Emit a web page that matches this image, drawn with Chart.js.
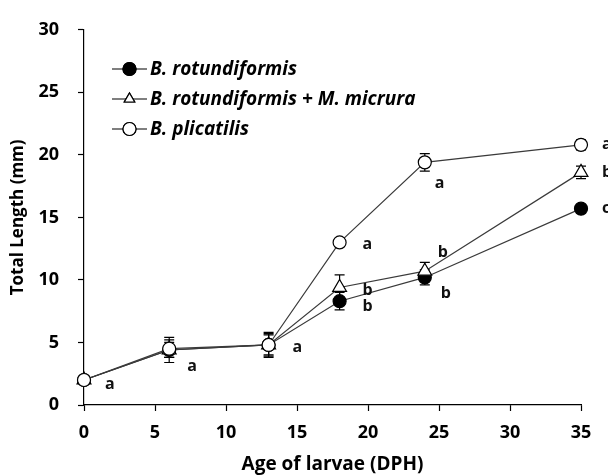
<!DOCTYPE html>
<html>
<head>
<meta charset="utf-8">
<script src="https://cdn.jsdelivr.net/npm/chart.js@4.4.1/dist/chart.umd.min.js"></script>
<style>
  html, body { margin: 0; padding: 0; background: #fff; }
  #wrap { width: 608px; height: 476px; position: relative; }
</style>
</head>
<body>
<div id="wrap"><canvas id="c" width="608" height="476"></canvas></div>
<script>
// ---- data ----
const ageDPH = [0, 6, 13, 18, 24, 35];
const seriesNames = ["B. rotundiformis", "B. rotundiformis + M. micrura", "B. plicatilis"];
const rotundiformis = [2.0, 4.4, 4.8, 8.3, 10.2, 15.7];
const rotundiformisMicrura = [2.0, 4.4, 4.8, 9.4, 10.7, 18.6];
const plicatilis = [2.0, 4.5, 4.8, 13.0, 19.4, 20.8];
const errRotundiformis = [0.3, 1.0, 1.0, 0.7, 0.6, 0.3];
const errRotundiformisMicrura = [0.3, 0.6, 0.8, 1.0, 0.7, 0.5];
const errPlicatilis = [0.3, 0.7, 0.9, 0.3, 0.7, 0.4];
const lettersRotundiformis = ["", "", "", "b", "b", "c"];
const lettersRotundiformisMicrura = ["", "", "", "b", "b", "b"];
const lettersPlicatilis = ["a", "a", "a", "a", "a", "a"];
const xTicks = [0, 5, 10, 15, 20, 25, 30, 35];
const yTicks = [0, 5, 10, 15, 20, 25, 30];

// label offsets (pixels) relative to each point
const letterOffsets = [
  [[0,0],[0,0],[0,0],[23,5],[16,16],[21,0]],
  [[0,0],[0,0],[0,0],[23,3],[13,-19],[21,0]],
  [[21,4],[18,18],[24,2],[23,2],[10,21],[21,0]]
];

const FONT = "'Open Sans', Lato, sans-serif";
const lineColor = '#3a3a3a';

const mk = (vals) => ageDPH.map((x, i) => ({ x: x, y: vals[i] }));

const datasets = [
  { label: seriesNames[0], data: mk(rotundiformis), err: errRotundiformis, letters: lettersRotundiformis, order: 2,
    pointStyle: 'circle', pointRadius: 6.5, pointBackgroundColor: '#000', pointBorderColor: '#000' },
  { label: seriesNames[1], data: mk(rotundiformisMicrura), err: errRotundiformisMicrura, letters: lettersRotundiformisMicrura, order: 1,
    pointStyle: 'triangle', pointRadius: 8, pointBackgroundColor: '#fff', pointBorderColor: '#000' },
  { label: seriesNames[2], data: mk(plicatilis), err: errPlicatilis, letters: lettersPlicatilis, order: 0,
    pointStyle: 'circle', pointRadius: 6.5, pointBackgroundColor: '#fff', pointBorderColor: '#000' }
].map(d => Object.assign({
  borderColor: lineColor, borderWidth: 1.2, pointBorderWidth: 1.2, pointHoverRadius: 7,
  showLine: true, fill: false, tension: 0, clip: false
}, d));

const errorBars = {
  id: 'errorBars',
  beforeDatasetsDraw(chart) {
    const ctx = chart.ctx, xs = chart.scales.x, ys = chart.scales.y;
    ctx.save();
    ctx.strokeStyle = '#000';
    ctx.lineWidth = 1.2;
    chart.data.datasets.forEach(ds => {
      ds.data.forEach((p, i) => {
        const e = ds.err[i];
        if (!e) return;
        const px = xs.getPixelForValue(p.x);
        const top = ys.getPixelForValue(p.y + e);
        const bot = ys.getPixelForValue(p.y - e);
        ctx.beginPath();
        ctx.moveTo(px, top); ctx.lineTo(px, bot);
        ctx.moveTo(px - 5, top); ctx.lineTo(px + 5, top);
        ctx.moveTo(px - 5, bot); ctx.lineTo(px + 5, bot);
        ctx.stroke();
      });
    });
    ctx.restore();
  }
};

const lettersPlugin = {
  id: 'letters',
  afterDatasetsDraw(chart) {
    const ctx = chart.ctx, xs = chart.scales.x, ys = chart.scales.y;
    ctx.save();
    ctx.fillStyle = '#111';
    ctx.font = "bold 16px " + FONT;
    ctx.textAlign = 'left';
    ctx.textBaseline = 'middle';
    chart.data.datasets.forEach((ds, di) => {
      ds.data.forEach((p, i) => {
        const t = ds.letters[i];
        if (!t) return;
        const off = letterOffsets[di][i];
        ctx.fillText(t, xs.getPixelForValue(p.x) + off[0], ys.getPixelForValue(p.y) + off[1]);
      });
    });
    ctx.restore();
  }
};

const legendPlugin = {
  id: 'customLegend',
  afterDraw(chart) {
    const ctx = chart.ctx;
    const x0 = 112, x1 = 147, mx = 129.5, tx = 150;
    const rows = [69, 99, 129];
    ctx.save();
    chart.data.datasets.forEach((ds, i) => {
      const y = rows[i];
      ctx.strokeStyle = '#000';
      ctx.lineWidth = 1.2;
      ctx.beginPath(); ctx.moveTo(x0, y); ctx.lineTo(x1, y); ctx.stroke();
      ctx.fillStyle = ds.pointBackgroundColor;
      Chart.helpers.drawPoint(ctx, {
        pointStyle: ds.pointStyle, radius: ds.pointStyle === 'triangle' ? 6 : 6.5,
        rotation: 0, borderWidth: 1.2
      }, mx, y);
      ctx.fill();
      ctx.stroke();
      ctx.fillStyle = '#000';
      ctx.font = "italic bold 19px " + FONT;
      ctx.textAlign = 'left';
      ctx.textBaseline = 'middle';
      ctx.fillText(ds.label, tx, y + 1);
    });
    ctx.restore();
  }
};

new Chart(document.getElementById('c'), {
  type: 'scatter',
  data: { datasets: datasets },
  plugins: [errorBars, lettersPlugin, legendPlugin],
  options: {
    responsive: false,
    animation: false,
    layout: { padding: { left: 0, right: 27, top: 20, bottom: 0 } },
    plugins: { legend: { display: false }, tooltip: { enabled: false } },
    scales: {
      x: {
        type: 'linear', min: 0, max: 35,
        afterBuildTicks: s => { s.ticks = xTicks.map(v => ({ value: v })); },
        afterFit: s => { s.height = 71; },
        grid: { drawOnChartArea: false, tickLength: 6, tickColor: '#000', tickWidth: 1.2 },
        border: { color: '#000', width: 1.2 },
        ticks: { color: '#000', font: { family: FONT, size: 18, weight: 'bold' }, padding: 11, maxRotation: 0 },
        title: { display: true, text: 'Age of larvae (DPH)', color: '#000',
                 font: { family: FONT, size: 19, weight: 'bold' }, padding: { top: 0, bottom: 0 } }
      },
      y: {
        type: 'linear', min: 0, max: 30,
        afterBuildTicks: s => { s.ticks = yTicks.map(v => ({ value: v })); },
        afterFit: s => { s.width = 84; },
        grid: { drawOnChartArea: false, tickLength: 6, tickColor: '#000', tickWidth: 1.2 },
        border: { color: '#000', width: 1.2 },
        ticks: { color: '#000', font: { family: FONT, size: 18, weight: 'bold' }, padding: 19 },
        title: { display: true, text: 'Total Length (mm)', color: '#000',
                 font: { family: FONT, size: 17, weight: 'bold' }, padding: { top: 8, bottom: 0 } }
      }
    }
  }
});
</script>
</body>
</html>
